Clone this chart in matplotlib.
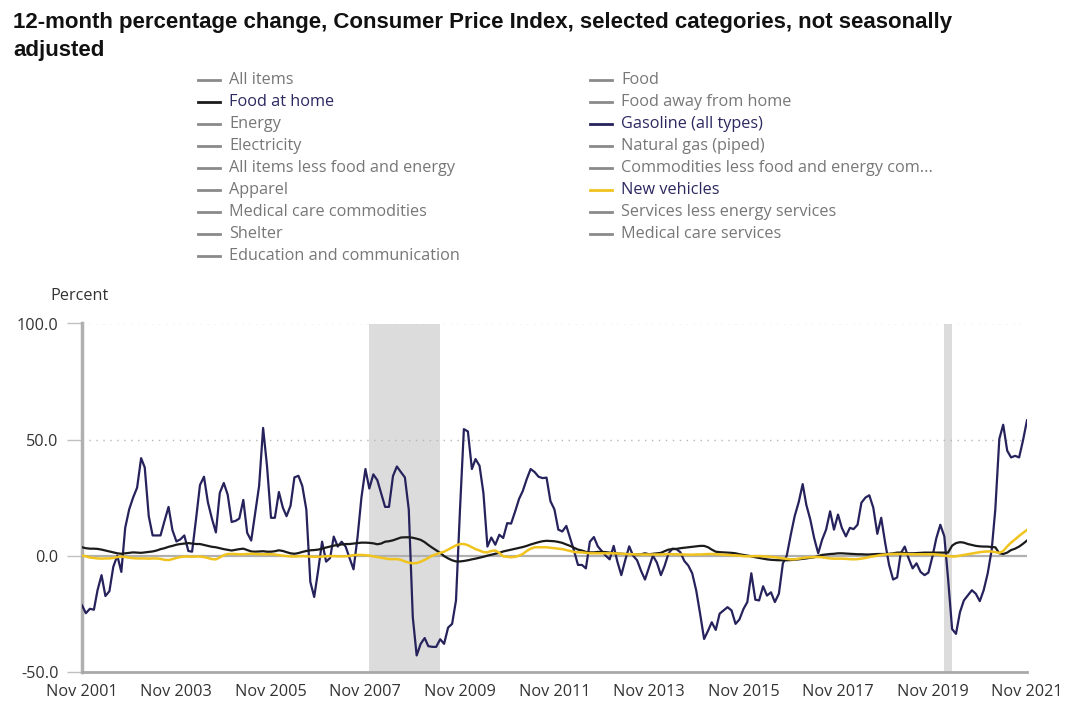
import numpy as np
import pandas as pd
import matplotlib.pyplot as plt
import matplotlib.dates as mdates
from matplotlib.lines import Line2D

# monthly data, Nov 2001 .. Nov 2021 (12-month % change)
dates = pd.date_range('2001-11-01', periods=241, freq='MS')

gasoline = [
    -21.4, -24.8, -22.9, -23.3, -14.9, -8.4, -17.4, -15.3, -4.8, 0.0, -7.0, 12.0,
    20.0, 25.0, 29.3, 42.0, 38.0, 17.0, 8.7, 8.7, 8.7, 15.0, 21.0, 11.0,
    6.1, 7.0, 8.7, 2.0, 1.7, 16.0, 30.4, 34.0, 23.0, 16.0, 10.0, 27.0,
    31.3, 26.3, 14.5, 15.0, 16.0, 24.0, 9.8, 6.5, 18.0, 30.0, 55.0, 38.7,
    16.3, 16.3, 27.4, 20.6, 17.0, 21.5, 33.7, 34.4, 30.0, 19.9, -11.3, -17.8,
    -6.2, 6.0, -2.6, -1.0, 8.2, 3.9, 6.0, 3.9, -1.0, -5.9, 8.0, 25.0,
    37.3, 28.9, 35.0, 32.5, 27.0, 21.0, 21.0, 34.3, 38.4, 36.0, 33.7, 19.9,
    -26.5, -43.0, -38.0, -35.5, -39.0, -39.3, -39.3, -36.0, -38.0, -31.0, -29.4, -19.3,
    19.9, 54.5, 53.5, 37.3, 41.6, 38.7, 27.0, 3.9, 7.8, 4.7, 9.0, 7.6,
    14.0, 13.8, 19.0, 24.5, 27.8, 33.0, 37.3, 36.0, 34.0, 33.4, 33.6, 23.5,
    19.9, 11.2, 10.4, 12.8, 7.6, 2.0, -4.0, -4.0, -5.5, 6.0, 8.0, 4.0,
    2.0, 0.0, -1.6, 4.2, -2.5, -8.4, -2.0, 4.0, 0.0, -2.0, -6.6, -10.3,
    -5.0, 0.0, -3.0, -8.4, -4.5, 1.0, 3.0, 2.8, 1.5, -2.3, -4.3, -7.6,
    -15.0, -25.0, -35.9, -32.3, -28.7, -32.0, -25.0, -23.6, -22.2, -23.6, -29.4, -27.5,
    -23.0, -20.0, -7.6, -19.0, -19.3, -13.2, -17.2, -15.8, -20.0, -16.4, -3.3, 0.0,
    9.0, 17.0, 23.0, 30.8, 21.9, 15.5, 7.5, 1.0, 6.8, 11.2, 19.1, 11.2,
    17.7, 11.9, 8.3, 12.0, 11.4, 13.3, 22.8, 25.0, 26.0, 20.6, 9.4, 16.3,
    5.4, -4.0, -10.3, -9.4, 1.0, 3.9, -1.2, -5.5, -3.3, -7.0, -8.4, -7.3,
    -0.4, 7.5, 13.3, 8.3, -10.0, -31.6, -33.7, -24.3, -19.3, -17.1, -14.9, -16.4,
    -19.6, -14.9, -7.7, 2.5, 19.9, 50.3, 56.4, 45.2, 42.3, 43.0, 42.3, 49.6,
    58.3,
]

food_at_home = [
    3.6, 3.2, 3.0, 3.0, 2.9, 2.6, 2.2, 1.8, 1.4, 1.0, 0.8, 1.0,
    1.2, 1.4, 1.3, 1.2, 1.4, 1.6, 1.8, 2.2, 2.8, 3.2, 3.8, 4.2,
    4.7, 5.0, 5.2, 5.4, 5.2, 5.0, 5.0, 4.6, 4.2, 3.8, 3.6, 3.2,
    2.8, 2.5, 2.2, 2.5, 2.8, 3.0, 2.4, 1.8, 1.7, 1.8, 1.9, 1.7,
    1.7, 1.9, 2.3, 2.0, 1.5, 1.0, 0.8, 1.1, 1.6, 2.0, 2.3, 2.4,
    2.6, 3.0, 3.5, 3.9, 4.3, 4.6, 4.8, 5.0, 5.0, 5.2, 5.4, 5.6,
    5.6, 5.5, 5.3, 4.9, 5.2, 6.0, 6.2, 6.6, 7.2, 7.8, 7.9, 7.9,
    7.7, 7.3, 6.8, 5.8, 4.6, 3.4, 2.3, 1.2, -0.2, -1.2, -2.0, -2.5,
    -2.5, -2.3, -2.0, -1.6, -1.3, -0.9, -0.5, 0.0, 0.4, 0.8, 1.2, 1.8,
    2.2, 2.6, 3.0, 3.4, 3.7, 4.2, 4.8, 5.3, 5.8, 6.2, 6.4, 6.3,
    6.2, 5.9, 5.5, 4.8, 4.2, 3.4, 2.6, 2.2, 1.6, 1.4, 1.4, 1.6,
    1.6, 1.5, 1.3, 1.1, 0.9, 0.8, 0.7, 0.7, 0.6, 0.5, 0.6, 1.0,
    0.6, 0.8, 1.0, 1.2, 1.9, 2.6, 2.8, 2.9, 3.2, 3.4, 3.6, 3.8,
    4.0, 4.2, 4.2, 3.6, 2.6, 1.7, 1.5, 1.4, 1.3, 1.2, 1.0, 0.6,
    0.3, 0.0, -0.3, -0.7, -1.0, -1.3, -1.6, -1.8, -1.9, -2.0, -2.0, -2.0,
    -1.9, -1.8, -1.6, -1.4, -1.2, -0.9, -0.7, -0.2, 0.3, 0.5, 0.7, 0.8,
    1.0, 1.0, 0.9, 0.8, 0.7, 0.6, 0.6, 0.5, 0.5, 0.6, 0.7, 0.7,
    0.7, 0.8, 1.0, 1.3, 1.3, 1.1, 1.0, 1.0, 1.1, 1.2, 1.3, 1.3,
    1.3, 1.3, 1.3, 1.3, 1.3, 4.3, 5.4, 5.8, 5.6, 5.0, 4.6, 4.2,
    4.0, 3.9, 3.9, 3.7, 3.6, 1.0, 0.7, 1.3, 2.4, 3.0, 3.9, 5.1,
    6.5,
]

new_vehicles = [
    0.0, -0.3, -0.8, -1.0, -1.2, -1.3, -1.2, -1.2, -1.0, -0.6, -0.4, -0.6,
    -0.9, -1.1, -1.2, -1.2, -1.2, -1.3, -1.2, -1.2, -1.4, -1.8, -1.9, -1.5,
    -1.0, -0.6, -0.4, -0.4, -0.5, -0.4, -0.4, -0.6, -1.0, -1.5, -1.6, -0.8,
    0.2, 0.7, 0.7, 0.7, 0.6, 0.6, 0.7, 0.8, 0.7, 0.6, 0.6, 0.6,
    0.6, 0.5, 0.2, 0.0, -0.2, -0.3, -0.4, -0.3, -0.2, -0.3, -0.4, -0.5,
    -0.5, -0.4, -0.3, -0.2, -0.2, -0.3, -0.3, -0.3, -0.1, 0.2, 0.3, 0.3,
    0.2, 0.0, -0.3, -0.6, -0.9, -1.2, -1.5, -1.5, -1.5, -1.8, -2.5, -3.0,
    -3.3, -3.2, -2.6, -1.8, -1.0, 0.0, 0.6, 1.2, 1.7, 2.6, 3.5, 4.4,
    5.0, 5.0, 4.5, 3.6, 2.8, 2.2, 1.5, 1.4, 2.0, 2.2, 1.2, -0.3,
    -0.5, -0.7, -0.5, 0.0, 0.7, 2.0, 3.0, 3.6, 3.6, 3.6, 3.6, 3.4,
    3.2, 3.0, 2.8, 2.4, 2.0, 1.6, 1.4, 1.4, 1.2, 1.0, 1.0, 1.0,
    1.0, 1.0, 1.0, 1.0, 0.9, 0.8, 0.7, 0.6, 0.6, 0.5, 0.5, 0.5,
    0.5, 0.5, 0.5, 0.5, 0.6, 0.7, 0.6, 0.6, 0.5, 0.5, 0.4, 0.4,
    0.5, 0.5, 0.6, 0.7, 0.7, 0.6, 0.5, 0.4, 0.3, 0.2, 0.1, 0.0,
    -0.2, -0.3, -0.3, -0.2, -0.2, -0.3, -0.4, -0.5, -0.7, -0.9, -1.2, -1.4,
    -1.6, -1.6, -1.3, -1.0, -0.8, -0.7, -0.6, -0.6, -0.7, -1.0, -1.2, -1.3,
    -1.3, -1.3, -1.4, -1.5, -1.6, -1.5, -1.3, -1.0, -0.6, -0.3, 0.0, 0.3,
    0.5, 0.6, 0.7, 0.7, 0.7, 0.7, 0.6, 0.6, 0.6, 0.6, 0.6, 0.6,
    0.6, 0.5, 0.3, 0.0, -0.2, -0.4, -0.3, 0.0, 0.3, 0.6, 0.9, 1.2,
    1.5, 1.7, 1.8, 1.8, 1.5, 1.2, 2.0, 4.0, 5.6, 7.0, 8.5, 9.8,
    11.1,
]

recessions = [('2001-03-01', '2001-11-01'), ('2007-12-01', '2009-06-01'),
              ('2020-02-01', '2020-04-01')]

legend_col1 = ['All items', 'Food at home', 'Energy', 'Electricity',
               'All items less food and energy', 'Apparel',
               'Medical care commodities', 'Shelter', 'Education and communication']
legend_col2 = ['Food', 'Food away from home', 'Gasoline (all types)',
               'Natural gas (piped)', 'Commodities less food and energy com...',
               'New vehicles', 'Services less energy services', 'Medical care services']

NAVY = '#25225c'
BLACK = '#1b1b1b'
YELLOW = '#f0c31e'
GRAY = '#8a8a8a'
active = {'Food at home': BLACK, 'Gasoline (all types)': NAVY, 'New vehicles': YELLOW}

plt.rcParams['font.family'] = ['Open Sans', 'DejaVu Sans']

fig = plt.figure(figsize=(10.8, 7.19), dpi=100)
ax = fig.add_axes([82 / 1080, 1 - 671.7 / 719, 945 / 1080, (671.7 - 323.5) / 719])

for a, b in recessions:
    ax.axvspan(pd.Timestamp(a), pd.Timestamp(b), color='#dcdcdc', lw=0, zorder=0)

for v in [50, 100]:
    ax.axhline(v, color='#b5b5b5', lw=1, ls=(0, (1, 4)), zorder=1)
ax.axhline(0, color='#b0b0b0', lw=1.6, zorder=1)

ax.plot(dates, gasoline, color=NAVY, lw=1.6, zorder=3)
ax.plot(dates, food_at_home, color=BLACK, lw=1.6, zorder=4)
ax.plot(dates, new_vehicles, color=YELLOW, lw=1.8, zorder=5)

ax.set_xlim(dates[0], dates[-1])
ax.set_ylim(-50, 100)
ax.set_yticks([-50, 0, 50, 100])
ax.set_yticklabels(['-50.0', '0.0', '50.0', '100.0'])
ax.set_xticks(dates[::24])
ax.xaxis.set_major_formatter(mdates.DateFormatter('%b %Y'))

for s in ['top', 'right']:
    ax.spines[s].set_visible(False)
ax.spines['left'].set_color('#b0b0b0')
ax.spines['left'].set_linewidth(2.5)
ax.spines['bottom'].set_color('#a8a8a8')
ax.spines['bottom'].set_linewidth(2)
ax.tick_params(axis='y', length=11, width=1, color='#c0c0c0', pad=6,
               labelsize=11.7, labelcolor='#333333')
ax.tick_params(axis='x', length=0, pad=9, labelsize=11.7, labelcolor='#333333')

fig.text(50 / 1080, 1 - 296 / 719, 'Percent', fontsize=11.7, color='#333333', va='center')

fig.text(13 / 1080, 1 - 12 / 719,
         '12-month percentage change, Consumer Price Index, selected categories, not seasonally\nadjusted',
         family=['Liberation Sans', 'DejaVu Sans'], fontsize=16, fontweight='bold',
         va='top', ha='left', linespacing=1.45, color='#111111')

# legend drawn by hand, two columns
for col, (labels, hx) in enumerate([(legend_col1, 198), (legend_col2, 590)]):
    for i, lab in enumerate(labels):
        yc = 1 - (80 + 22 * i) / 719
        c = active.get(lab, GRAY)
        fig.add_artist(Line2D([hx / 1080, (hx + 22) / 1080], [yc, yc], color=c, lw=2))
        tc = '#2b2860' if lab in active else '#777777'
        fig.text((hx + 31) / 1080, yc, lab, fontsize=11.7, color=tc, va='center', ha='left')

fig.savefig('out.png', dpi=100)
